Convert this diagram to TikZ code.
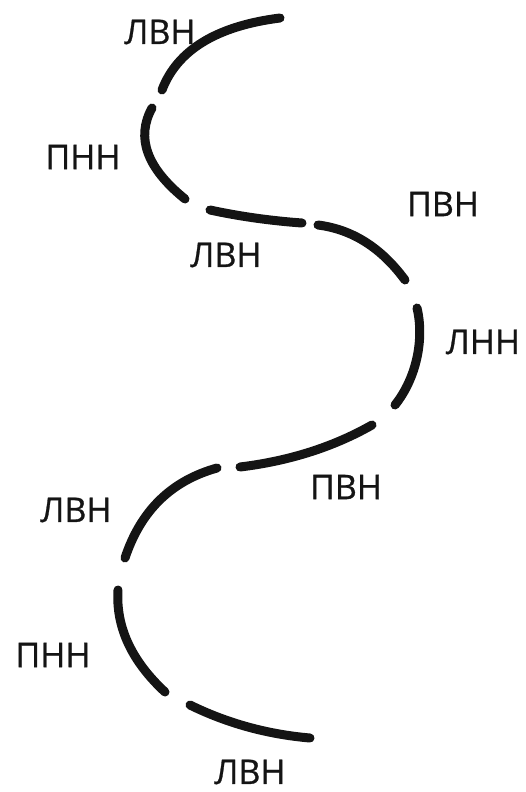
\documentclass[tikz,border=0pt]{standalone}
\usepackage{fontspec}
\setmainfont{Open Sans}
\newfontfamily\lblfont[FakeBold=0.8]{Open Sans}
\begin{document}
\begin{tikzpicture}[x=1pt,y=-1pt,
  seg/.style={line width=9pt,line cap=round,draw=black!92},
  lbl/.style={font=\lblfont\fontsize{34}{36}\selectfont,inner sep=0pt,text=black!92}]
\useasboundingbox (0,0) rectangle (525,792);
% segments
\draw[seg] (280,18) .. controls (216.7,26) and (177.3,50) .. (162,90);
\draw[seg] (152,108) .. controls (135.7,137.7) and (146.7,168) .. (185,199);
\draw[seg] (210,210) .. controls (239.3,216.3) and (270,220.7) .. (302,223);
\draw[seg] (318,225) .. controls (351.7,229.3) and (380.7,247) .. (405,280);
\draw[seg] (417,308) .. controls (424.3,338.3) and (417,377.3) .. (395,405);
\draw[seg] (372,425) .. controls (333.3,447) and (289.3,461) .. (240,467);
\draw[seg] (217,468) .. controls (171.7,480.7) and (141,510) .. (125,558);
\draw[seg] (118,590) .. controls (115.7,626.7) and (131.3,660.7) .. (165,692);
\draw[seg] (190,705) .. controls (227.3,723.3) and (267.3,734.3) .. (310,738);
% labels
\node[lbl] (l1) at (160,32) {ЛВН};
\node[lbl] (l2) at (83,157) {ПНН};
\node[lbl] (l3) at (226,255) {ЛВН};
\node[lbl] (l4) at (443,204) {ПВН};
\node[lbl] (l5) at (483,342) {ЛНН};
\node[lbl] (l6) at (346,487) {ПВН};
\node[lbl] (l7) at (76,510) {ЛВН};
\node[lbl] (l8) at (53,655) {ПНН};
\node[lbl] (l9) at (250,772) {ЛВН};
\end{tikzpicture}
\end{document}
